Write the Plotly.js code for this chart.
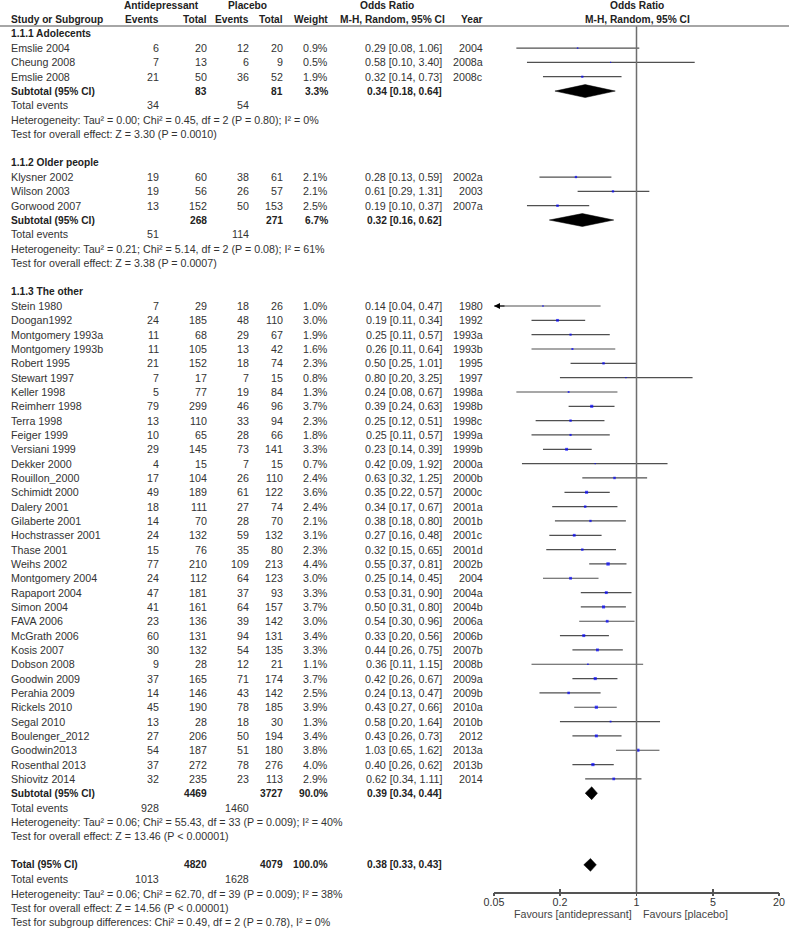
<!DOCTYPE html>
<html><head><meta charset="utf-8">
<script src="https://cdn.plot.ly/plotly-3.0.1.min.js"></script>
<style>html,body{margin:0;padding:0;background:#fff}#chart{width:789px;height:929px}</style>
</head><body><div id="chart"></div>
<script>
// ---------------- DATA ----------------
const sectionTitles = ["1.1.1 Adolecents", "1.1.2 Older people", "1.1.3 The other"];

const names1 = ["Emslie 2004", "Cheung 2008", "Emslie 2008"];
const adEv1 = [6, 7, 21];
const adTot1 = [20, 13, 50];
const plEv1 = [12, 6, 36];
const plTot1 = [20, 9, 52];
const wt1 = [0.9, 0.5, 1.9];
const or1 = [0.29, 0.58, 0.32];
const lo1 = [0.08, 0.10, 0.14];
const hi1 = [1.06, 3.40, 0.73];
const yr1 = ["2004", "2008a", "2008c"];

const names2 = ["Klysner 2002", "Wilson 2003", "Gorwood 2007"];
const adEv2 = [19, 19, 13];
const adTot2 = [60, 56, 152];
const plEv2 = [38, 26, 50];
const plTot2 = [61, 57, 153];
const wt2 = [2.1, 2.1, 2.5];
const or2 = [0.28, 0.61, 0.19];
const lo2 = [0.13, 0.29, 0.10];
const hi2 = [0.59, 1.31, 0.37];
const yr2 = ["2002a", "2003", "2007a"];

const names3 = ["Stein 1980", "Doogan1992", "Montgomery 1993a", "Montgomery 1993b", "Robert 1995", "Stewart 1997",
  "Keller 1998", "Reimherr 1998", "Terra 1998", "Feiger 1999", "Versiani 1999", "Dekker 2000", "Rouillon_2000",
  "Schimidt 2000", "Dalery 2001", "Gilaberte 2001", "Hochstrasser 2001", "Thase 2001", "Weihs 2002",
  "Montgomery 2004", "Rapaport 2004", "Simon 2004", "FAVA 2006", "McGrath 2006", "Kosis 2007", "Dobson 2008",
  "Goodwin 2009", "Perahia 2009", "Rickels 2010", "Segal 2010", "Boulenger_2012", "Goodwin2013",
  "Rosenthal 2013", "Shiovitz 2014"];
const adEv3 = [7, 24, 11, 11, 21, 7, 5, 79, 13, 10, 29, 4, 17, 49, 18, 14, 24, 15, 77, 24, 47, 41, 23, 60, 30, 9, 37, 14, 45, 13, 27, 54, 37, 32];
const adTot3 = [29, 185, 68, 105, 152, 17, 77, 299, 110, 65, 145, 15, 104, 189, 111, 70, 132, 76, 210, 112, 181, 161, 136, 131, 132, 28, 165, 146, 190, 28, 206, 187, 272, 235];
const plEv3 = [18, 48, 29, 13, 18, 7, 19, 46, 33, 28, 73, 7, 26, 61, 27, 28, 59, 35, 109, 64, 37, 64, 39, 94, 54, 12, 71, 43, 78, 18, 50, 51, 78, 23];
const plTot3 = [26, 110, 67, 42, 74, 15, 84, 96, 94, 66, 141, 15, 110, 122, 74, 70, 132, 80, 213, 123, 93, 157, 142, 131, 135, 21, 174, 142, 185, 30, 194, 180, 276, 113];
const wt3 = [1.0, 3.0, 1.9, 1.6, 2.3, 0.8, 1.3, 3.7, 2.3, 1.8, 3.3, 0.7, 2.4, 3.6, 2.4, 2.1, 3.1, 2.3, 4.4, 3.0, 3.3, 3.7, 3.0, 3.4, 3.3, 1.1, 3.7, 2.5, 3.9, 1.3, 3.4, 3.8, 4.0, 2.9];
const or3 = [0.14, 0.19, 0.25, 0.26, 0.50, 0.80, 0.24, 0.39, 0.25, 0.25, 0.23, 0.42, 0.63, 0.35, 0.34, 0.38, 0.27, 0.32, 0.55, 0.25, 0.53, 0.50, 0.54, 0.33, 0.44, 0.36, 0.42, 0.24, 0.43, 0.58, 0.43, 1.03, 0.40, 0.62];
const lo3 = [0.04, 0.11, 0.11, 0.11, 0.25, 0.20, 0.08, 0.24, 0.12, 0.11, 0.14, 0.09, 0.32, 0.22, 0.17, 0.18, 0.16, 0.15, 0.37, 0.14, 0.31, 0.31, 0.30, 0.20, 0.26, 0.11, 0.26, 0.13, 0.27, 0.20, 0.26, 0.65, 0.26, 0.34];
const hi3 = [0.47, 0.34, 0.57, 0.64, 1.01, 3.25, 0.67, 0.63, 0.51, 0.57, 0.39, 1.92, 1.25, 0.57, 0.67, 0.80, 0.48, 0.65, 0.81, 0.45, 0.90, 0.80, 0.96, 0.56, 0.75, 1.15, 0.67, 0.47, 0.66, 1.64, 0.73, 1.62, 0.62, 1.11];
const yr3 = ["1980", "1992", "1993a", "1993b", "1995", "1997", "1998a", "1998b", "1998c", "1999a", "1999b", "2000a", "2000b",
  "2000c", "2001a", "2001b", "2001c", "2001d", "2002b", "2004", "2004a", "2004b", "2006a", "2006b", "2007b", "2008b",
  "2009a", "2009b", "2010a", "2010b", "2012", "2013a", "2013b", "2014"];

// subtotals per subgroup
const subAdTot = [83, 268, 4469];
const subPlTot = [81, 271, 3727];
const subWt = [3.3, 6.7, 90.0];
const subOR = [0.34, 0.32, 0.39];
const subLo = [0.18, 0.16, 0.34];
const subHi = [0.64, 0.62, 0.44];
const subAdEv = [34, 51, 928];
const subPlEv = [54, 114, 1460];
const subHet = [
  "Heterogeneity: Tau² = 0.00; Chi² = 0.45, df = 2 (P = 0.80); I² = 0%",
  "Heterogeneity: Tau² = 0.21; Chi² = 5.14, df = 2 (P = 0.08); I² = 61%",
  "Heterogeneity: Tau² = 0.06; Chi² = 55.43, df = 33 (P = 0.009); I² = 40%"];
const subTest = [
  "Test for overall effect: Z = 3.30 (P = 0.0010)",
  "Test for overall effect: Z = 3.38 (P = 0.0007)",
  "Test for overall effect: Z = 13.46 (P &lt; 0.00001)"];

// overall total
const totAdTot = 4820, totPlTot = 4079, totWt = 100.0, totOR = 0.38, totLo = 0.33, totHi = 0.43;
const totAdEv = 1013, totPlEv = 1628;
const totHet = "Heterogeneity: Tau² = 0.06; Chi² = 62.70, df = 39 (P = 0.009); I² = 38%";
const totTest = "Test for overall effect: Z = 14.56 (P &lt; 0.00001)";
const subgroupDiff = "Test for subgroup differences: Chi² = 0.49, df = 2 (P = 0.78), I² = 0%";

const tickVals = [0.05, 0.2, 1, 5, 20];
const tickText = ["0.05", "0.2", "1", "5", "20"];
const forestHeader = ["Odds Ratio", "M-H, Random, 95% CI"];
const favLeft = "Favours [antidepressant]";
const favRight = "Favours [placebo]";

// ---------------- LAYOUT CONSTANTS ----------------
const W = 789, H = 929;
const ROW0_PX = 306, PITCH = 14.33;   // pixel of row 0 and row pitch
const FONT = "Liberation Sans, Arial, sans-serif";
const FS = 10.7, FSB = 10.2;
const TXT = "#333333", BOLD = "#222222";
const COL = {name: 10, aE: 160, aT: 208, pE: 250, pT: 284, w: 329, ci: 443, yr: 484};
const L = Math.log10;                      // odds ratios are placed on a log10 scale
const X_MIN = tickVals[0], X_MAX = tickVals[tickVals.length - 1];
const AXIS_PX = 892, HEADER_LINE_PX = 26;
const xr = [L(X_MIN), L(X_MAX)];
const dom = [494 / W, 779 / W];
const nullPx = (dom[0] + (L(1) - xr[0]) / (xr[1] - xr[0]) * (dom[1] - dom[0])) * W;

// text width measurement (to centre the forest header with a left anchor)
const cv = document.createElement("canvas").getContext("2d");
function textW(t, size, bold) { cv.font = (bold ? "bold " : "") + size + "px 'Liberation Sans', Arial, sans-serif"; return cv.measureText(t).width; }

const sections = [
  {names: names1, aE: adEv1, aT: adTot1, pE: plEv1, pT: plTot1, w: wt1, or: or1, lo: lo1, hi: hi1, yr: yr1},
  {names: names2, aE: adEv2, aT: adTot2, pE: plEv2, pT: plTot2, w: wt2, or: or2, lo: lo2, hi: hi2, yr: yr2},
  {names: names3, aE: adEv3, aT: adTot3, pE: plEv3, pT: plTot3, w: wt3, or: or3, lo: lo3, hi: hi3, yr: yr3}
];

const ann = [];
function txt(px, row, text, anchor, bold) {
  ann.push({
    xref: "paper", yref: "y", x: px / W, y: row, text: bold ? "<b>" + text + "</b>" : text,
    xanchor: anchor, yanchor: "middle", showarrow: false, borderpad: 0,
    font: {family: FONT, size: bold ? FSB : FS, color: bold ? BOLD : TXT}
  });
}
const fW = w => w.toFixed(1) + "%";
const fCI = (o, l, h) => o.toFixed(2) + " [" + l.toFixed(2) + ", " + h.toFixed(2) + "]";

// headers
let r = -21;
txt(161, r, "Antidepressant", "center", true);
txt(247, r, "Placebo", "center", true);
txt(387, r, "Odds Ratio", "center", true);
txt(nullPx - textW(forestHeader[0], FSB, true) / 2, r, forestHeader[0], "left", true);
r++;
txt(COL.name, r, "Study or Subgroup", "left", true);
txt(COL.aE, r, "Events", "right", true);
txt(COL.aT, r, "Total", "right", true);
txt(COL.pE, r, "Events", "right", true);
txt(COL.pT, r, "Total", "right", true);
txt(COL.w, r, "Weight", "right", true);
txt(392, r, "M-H, Random, 95% CI", "center", true);
txt(COL.yr, r, "Year", "right", true);
txt(nullPx - textW(forestHeader[1], FSB, true) / 2, r, forestHeader[1], "left", true);
r++;

const ciX = [], ciY = [], mX = [], mY = [], mS = [];
const diamonds = [];
const arrowRows = [];
function addDiamond(row, o, l, h) { diamonds.push({row, o, l, h}); }

sections.forEach((s, k) => {
  txt(COL.name, r, sectionTitles[k], "left", true);
  r++;
  s.names.forEach((nm, i) => {
    txt(COL.name, r, nm, "left");
    txt(COL.aE, r, String(s.aE[i]), "right");
    txt(COL.aT, r, String(s.aT[i]), "right");
    txt(COL.pE, r, String(s.pE[i]), "right");
    txt(COL.pT, r, String(s.pT[i]), "right");
    txt(COL.w, r, fW(s.w[i]), "right");
    txt(COL.ci, r, fCI(s.or[i], s.lo[i], s.hi[i]), "right");
    txt(COL.yr, r, s.yr[i], "right");
    ciX.push(L(s.lo[i]), L(s.hi[i]), null); ciY.push(r, r, null);
    mX.push(L(s.or[i])); mY.push(r); mS.push(1.6 * Math.sqrt(s.w[i]));
    if (s.lo[i] < X_MIN) arrowRows.push(r);
    r++;
  });
  txt(COL.name, r, "Subtotal (95% CI)", "left", true);
  txt(COL.aT, r, String(subAdTot[k]), "right", true);
  txt(COL.pT, r, String(subPlTot[k]), "right", true);
  txt(COL.w, r, fW(subWt[k]), "right", true);
  txt(COL.ci, r, fCI(subOR[k], subLo[k], subHi[k]), "right", true);
  addDiamond(r, subOR[k], subLo[k], subHi[k]);
  r++;
  txt(COL.name, r, "Total events", "left");
  txt(COL.aE, r, String(subAdEv[k]), "right");
  txt(COL.pE, r, String(subPlEv[k]), "right");
  r++;
  txt(COL.name, r, subHet[k], "left"); r++;
  txt(COL.name, r, subTest[k], "left"); r++;
  r++; // blank row
});
// overall
txt(COL.name, r, "Total (95% CI)", "left", true);
txt(COL.aT, r, String(totAdTot), "right", true);
txt(COL.pT, r, String(totPlTot), "right", true);
txt(COL.w, r, fW(totWt), "right", true);
txt(COL.ci, r, fCI(totOR, totLo, totHi), "right", true);
addDiamond(r, totOR, totLo, totHi);
r++;
txt(COL.name, r, "Total events", "left");
txt(COL.aE, r, String(totAdEv), "right");
txt(COL.pE, r, String(totPlEv), "right");
r++;
txt(COL.name, r, totHet, "left"); r++;
txt(COL.name, r, totTest, "left"); r++;
txt(COL.name, r, subgroupDiff, "left"); r++;

// arrows for CIs running off the left edge
arrowRows.forEach(row => {
  ann.push({xref: "x", yref: "y", x: L(X_MIN), y: row, text: "", showarrow: true,
    ax: 12, ay: 0, arrowhead: 2, arrowsize: 1, arrowwidth: 1.2, arrowcolor: "#000", standoff: 0});
});

// favours labels
const axisPaperY = 1 - AXIS_PX / H;
ann.push({xref: "paper", yref: "paper", x: nullPx / W, y: 1 - 914 / H, text: favLeft, xanchor: "right", yanchor: "middle",
  xshift: -4, showarrow: false, borderpad: 0, font: {family: FONT, size: FS, color: "#444"}});
ann.push({xref: "paper", yref: "paper", x: nullPx / W, y: 1 - 914 / H, text: favRight, xanchor: "left", yanchor: "middle",
  xshift: 5, showarrow: false, borderpad: 0, font: {family: FONT, size: FS, color: "#444"}});

// ---------------- TRACES ----------------
const traces = [];
traces.push({type: "scatter", mode: "lines", x: ciX, y: ciY, xaxis: "x", yaxis: "y",
  line: {color: "#505050", width: 1.2}, hoverinfo: "skip", connectgaps: false});
traces.push({type: "scatter", mode: "markers", x: mX, y: mY, xaxis: "x", yaxis: "y",
  marker: {symbol: "square", size: mS, color: "#0000ff", line: {width: 0}}, hoverinfo: "skip"});
const DH = 0.45;
diamonds.forEach(d => {
  traces.push({type: "scatter", mode: "lines", fill: "toself", fillcolor: "#000",
    x: [L(d.l), L(d.o), L(d.h), L(d.o), L(d.l)], y: [d.row, d.row - DH, d.row, d.row + DH, d.row],
    line: {color: "#000", width: 0.5}, xaxis: "x", yaxis: "y", hoverinfo: "skip"});
});
// dummy trace to activate the overlay axis that draws the other half of the tick marks
traces.push({type: "scatter", mode: "markers", x: [0], y: [null], xaxis: "x2", yaxis: "y", hoverinfo: "skip"});

const tv = tickVals.map(L);
const layout = {
  width: W, height: H, margin: {l: 0, r: 0, t: 0, b: 0}, paper_bgcolor: "#fff", plot_bgcolor: "rgba(0,0,0,0)",
  showlegend: false,
  font: {family: FONT, size: FS, color: TXT},
  xaxis: {type: "linear", range: xr, domain: dom, anchor: "free", position: axisPaperY,
    tickvals: tv, ticktext: tickText, ticks: "inside", ticklen: 3, tickwidth: 1.2, tickcolor: "#555",
    showline: true, linecolor: "#555", linewidth: 1.5, showgrid: false, zeroline: false,
    tickfont: {family: FONT, size: FS, color: TXT}, fixedrange: true},
  xaxis2: {type: "linear", range: xr, domain: dom, overlaying: "x", anchor: "free", position: axisPaperY,
    tickvals: tv, ticks: "outside", ticklen: 3, tickwidth: 1.2, tickcolor: "#555",
    showticklabels: false, showline: false, showgrid: false, zeroline: false, fixedrange: true},
  yaxis: {range: [(H - ROW0_PX) / PITCH, -ROW0_PX / PITCH], domain: [0, 1], visible: false, fixedrange: true},
  shapes: [
    {type: "line", xref: "x", yref: "paper", x0: L(1), x1: L(1), y0: axisPaperY, y1: 1 - HEADER_LINE_PX / H,
      line: {color: "#6e6e6e", width: 1.5}},
    {type: "line", xref: "paper", yref: "paper", x0: 0, x1: 1, y0: 1 - HEADER_LINE_PX / H, y1: 1 - HEADER_LINE_PX / H,
      line: {color: "#888", width: 1.5}}
  ],
  annotations: ann
};
Plotly.newPlot("chart", traces, layout, {displayModeBar: false, staticPlot: true});
</script></body></html>
